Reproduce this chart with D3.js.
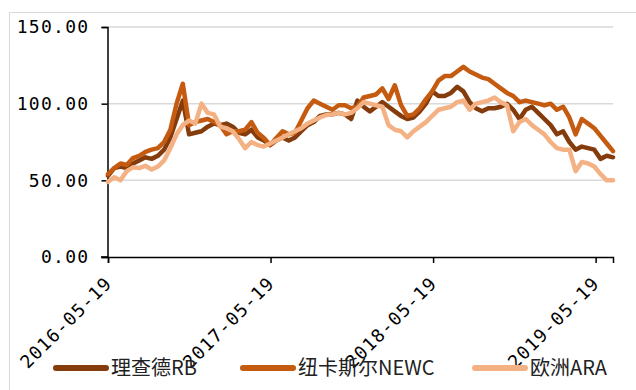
<!DOCTYPE html>
<html><head><meta charset="utf-8">
<script src="https://cdn.jsdelivr.net/npm/d3@7/dist/d3.min.js"></script>
<style>body{margin:0;background:#fff}svg{display:block}</style>
</head><body><svg id="c" width="636" height="390"></svg>
<script>
const startDate = "2016-05-19";
const stepDays = 14;
const seriesNames = ["理查德RB", "纽卡斯尔NEWC", "欧洲ARA"];
const seriesColors = ["#843C0C", "#C55A11", "#F4B183"];
const yTicks = [0, 50, 100, 150];
const xTickLabels = ["2016-05-19", "2017-05-19", "2018-05-19", "2019-05-19"];

const rb = [53,58,59,58,61,63,65,64,66,70,78,90,102,80,81,82,85,87,86,87,85,81,80,83,78,76,73,76,78,76,78,82,86,88,92,93,93,94,93,90,102,98,95,98,101,98,95,92,90,91,95,100,108,105,105,107,111,108,101,97,95,97,97,98,100,96,90,96,98,94,90,86,80,82,75,70,72,71,70,64,66,65];
const newc = [54,58,61,60,64.5,66,68.5,70,71,75,83,100,113,86,88,89,90,88,86,80,82,82,83,88,81,77.6,73,77.6,82,80,81,89,97,102,100,98,96,99,99,97,98,104,105,106,110,103,112,99,92,93,97,103,108,115,118,118,121,124,121,119,117,116,113,110,107,105,101,102,101,100,99,100,96,98,91,80,90,87,84,79,74,69];
const ara = [49,52,50,56,58.5,58,59.5,57,59,63,71,80,86,89,87,100,94,93,85,84,82,77,71,75,73,72,74,76,78,80,82,84,87,89,91,92.6,93,94,93,94,97,101,100,99,98,86,83,82,78,82,85,88,92,96,97,98,101,102,96,100,101,102,104,101,99,82,88,90,86,83,80,75,71,70,70,56,62,61,59,54,50,50];

(function () {
const parse = d3.timeParse("%Y-%m-%d");
const d0 = parse(startDate);
const dates = rb.map((_, i) => d3.timeDay.offset(d0, i * stepDays));
const allSeries = [rb, newc, ara];

const svg = d3.select("#c");
const pl = 108, pr = 613, pt = 27, pb = 257;

svg.append("rect").attr("x", 9.5).attr("y", 12.5).attr("width", 640).attr("height", 400)
  .attr("fill", "none").attr("stroke", "#d9d9d9").attr("stroke-width", 1);

const x = d3.scaleTime().domain([dates[0], dates[dates.length - 1]]).range([pl, pr]);
const y = d3.scaleLinear().domain([0, 150]).range([pb, pt]);

svg.append("g").selectAll("line").data(yTicks.filter(v => v > 0)).join("line")
  .attr("x1", pl).attr("x2", pr).attr("y1", d => y(d)).attr("y2", d => y(d))
  .attr("stroke", "#d9d9d9").attr("stroke-width", 1.5);

const monoFont = "'DejaVu Sans Mono', monospace";

const yAxis = svg.append("g").attr("transform", `translate(${pl - 0.5},0)`)
  .call(d3.axisLeft(y).tickValues(yTicks).tickSize(6).tickFormat(d3.format(".2f")));
yAxis.select(".domain").attr("stroke", "#000").attr("stroke-width", 1.5);
yAxis.selectAll(".tick line").attr("stroke", "#000").attr("stroke-width", 1.5);
yAxis.selectAll("text").attr("font-family", monoFont).attr("font-size", 18)
  .attr("letter-spacing", 1.3).attr("fill", "#000").attr("x", -18);

const xTickDates = xTickLabels.map(parse);
const xAxis = svg.append("g").attr("transform", `translate(0,${pb})`)
  .call(d3.axisBottom(x).tickValues(xTickDates).tickSizeOuter(0).tickSize(6).tickFormat(d3.timeFormat("%Y-%m-%d")));
xAxis.select(".domain").attr("stroke", "#000").attr("stroke-width", 1.5);
xAxis.selectAll(".tick line").attr("stroke", "#000").attr("stroke-width", 1.5);
xAxis.selectAll("text").attr("font-family", monoFont).attr("font-size", 18).attr("letter-spacing", 1.2)
  .attr("fill", "#000").attr("text-anchor", "end").attr("y", 0).attr("dy", "0.35em")
  .attr("transform", "translate(0,23) rotate(-45)");
svg.append("line").attr("x1", pl - 7).attr("x2", pl).attr("y1", pb).attr("y2", pb)
  .attr("stroke", "#000").attr("stroke-width", 1.5);

const line = d3.line().x((d, i) => x(dates[i])).y(d => y(d)).curve(d3.curveLinear);
svg.append("g").selectAll("path").data(allSeries).join("path")
  .attr("d", d => line(d)).attr("fill", "none")
  .attr("stroke", (d, i) => seriesColors[i]).attr("stroke-width", 4.5)
  .attr("stroke-linejoin", "round").attr("stroke-linecap", "round");

const legendX = [53, 240, 472];
const lg = svg.append("g");
seriesNames.forEach((n, i) => {
  lg.append("line").attr("x1", legendX[i] + 3).attr("x2", legendX[i] + 53).attr("y1", 368).attr("y2", 368)
    .attr("stroke", seriesColors[i]).attr("stroke-width", 6).attr("stroke-linecap", "round");
  lg.append("text").attr("x", legendX[i] + 58).attr("y", 368).attr("dy", "0.36em")
    .attr("font-family", "'Noto Sans CJK SC', 'Noto Sans', sans-serif").attr("font-size", 20)
    .attr("fill", "#222").text(n);
});
})();
</script></body></html>
